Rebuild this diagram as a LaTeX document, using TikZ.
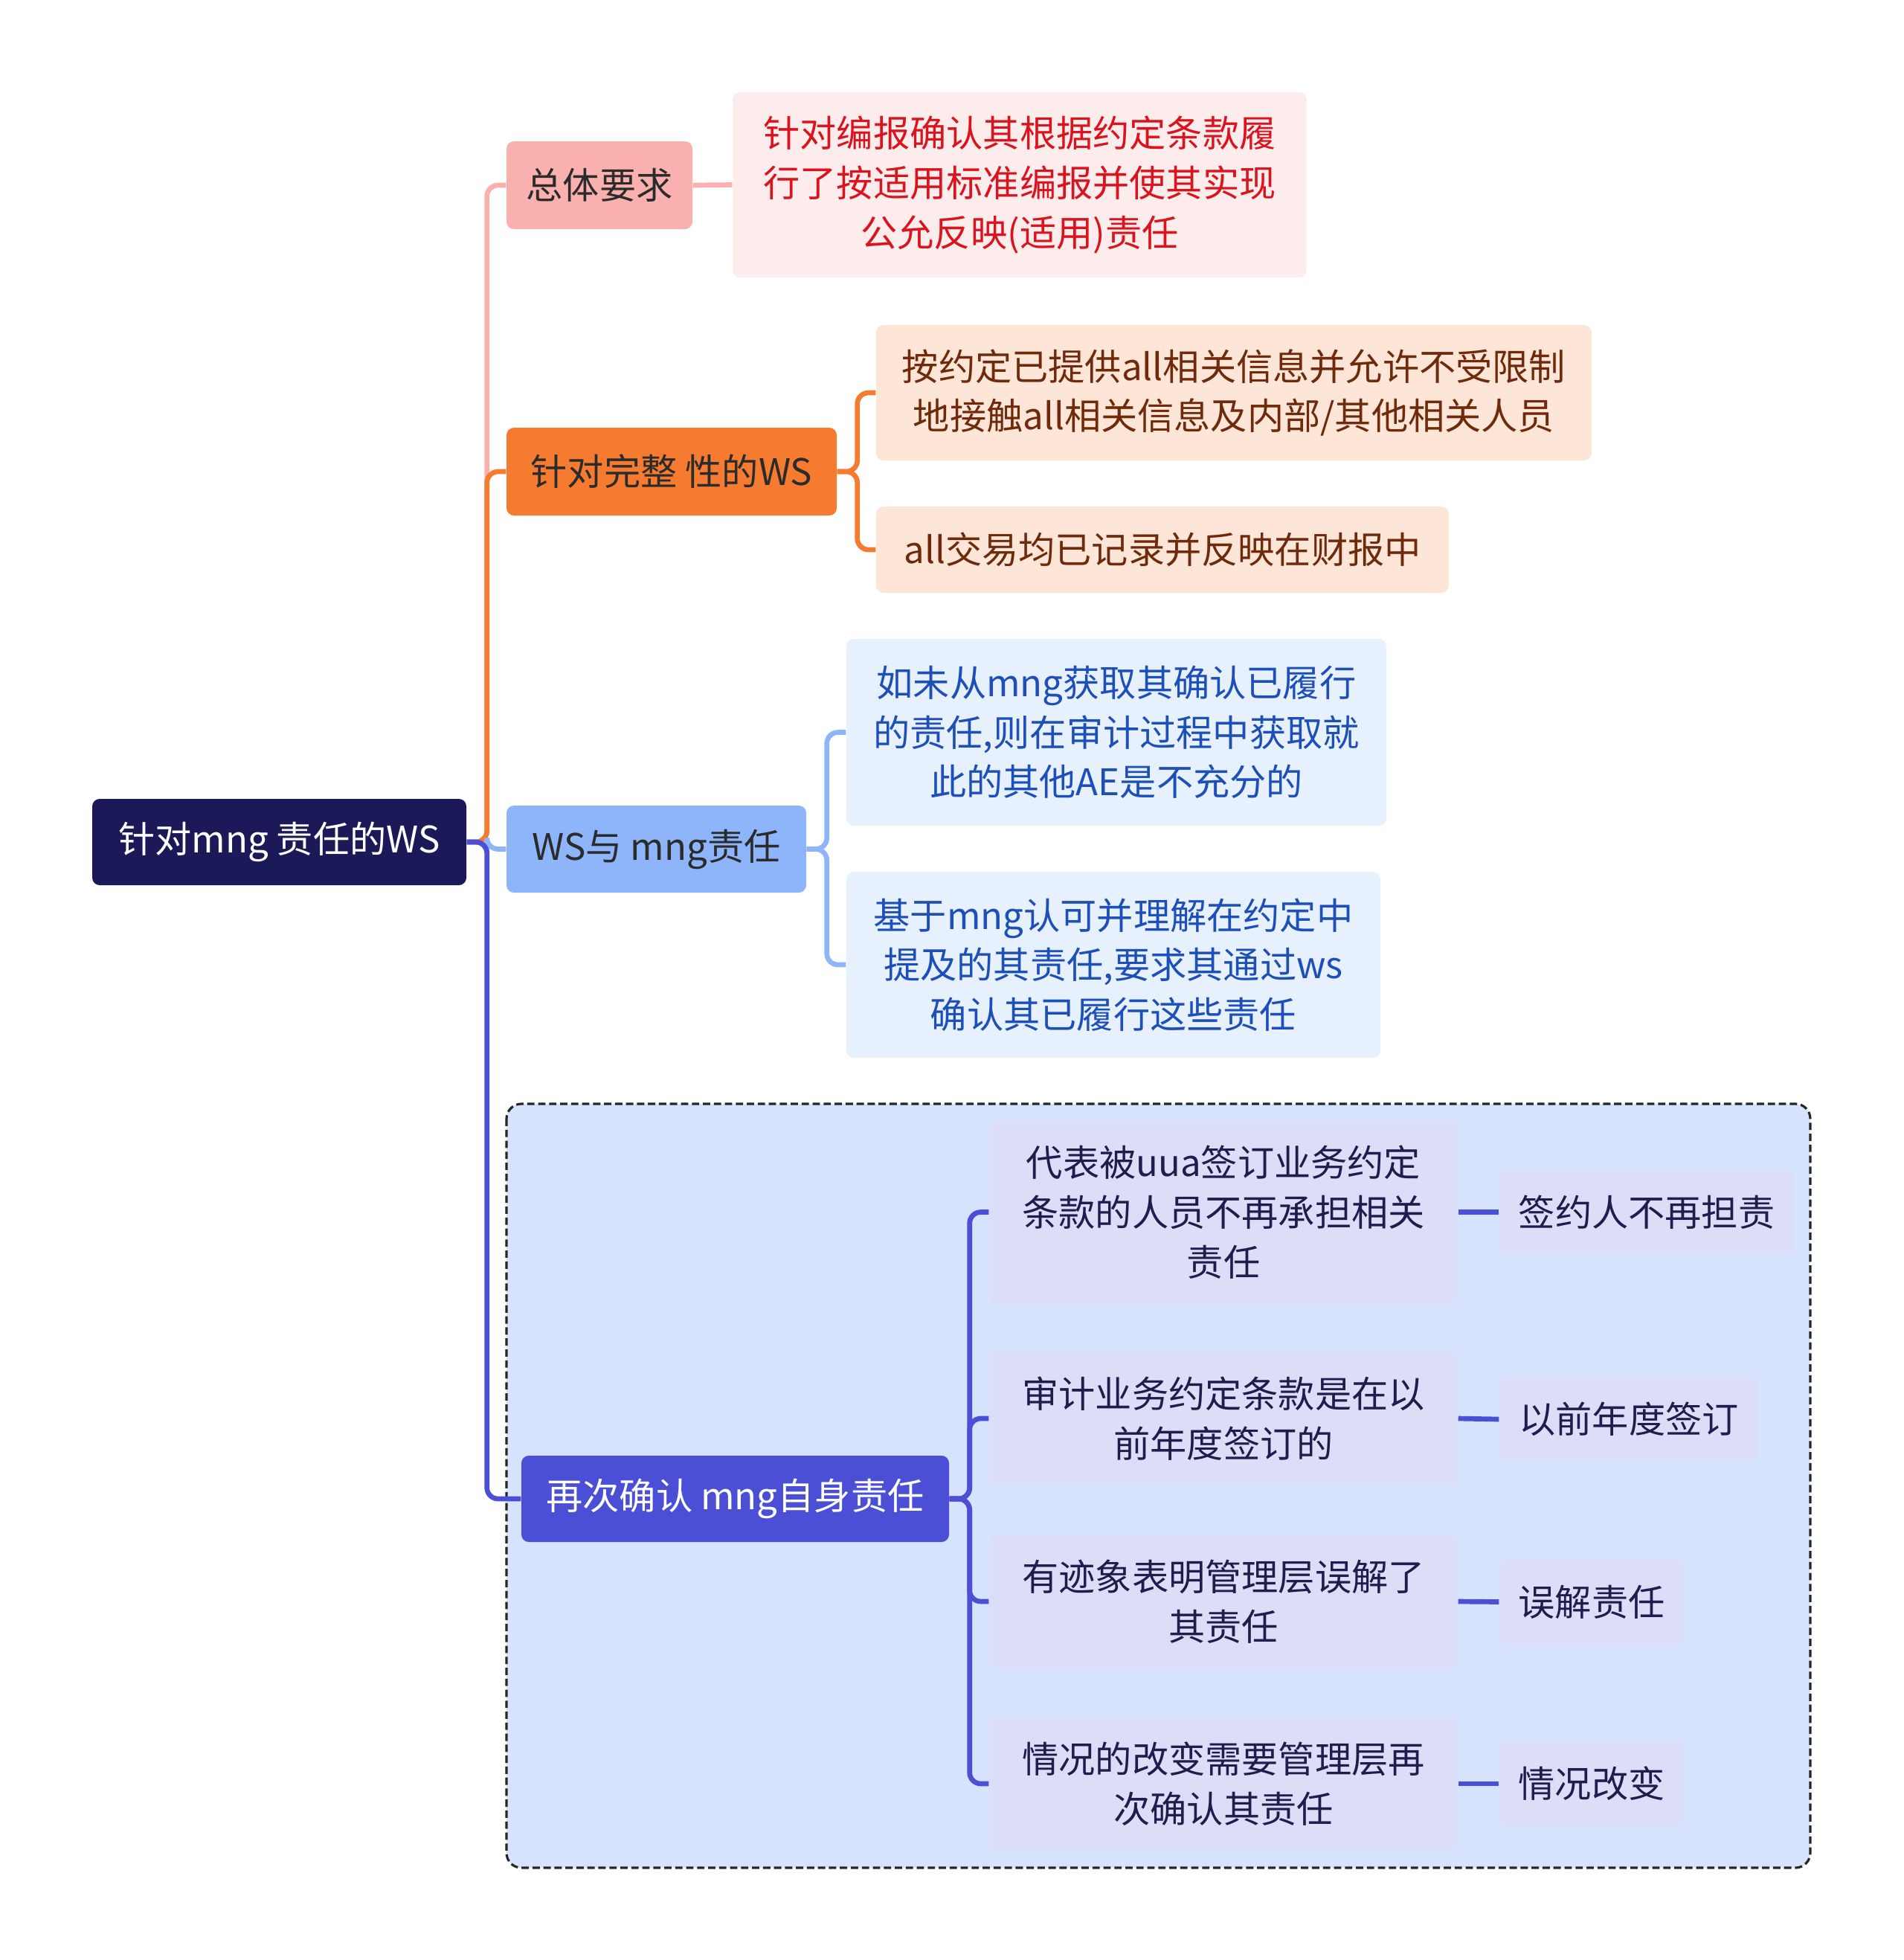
\documentclass[tikz,border=0pt]{standalone}
\usepackage{fontspec}
\setmainfont{Noto Sans CJK SC}
\usepackage{xcolor}
\usetikzlibrary{positioning, calc}

\definecolor{rootfill}{HTML}{1B1958}
\definecolor{pinkfill}{HTML}{FAB0AE}
\definecolor{pinklight}{HTML}{FDECEC}
\definecolor{pinktext}{HTML}{D9141E}
\definecolor{orangefill}{HTML}{F57B31}
\definecolor{orangelight}{HTML}{FDE5D7}
\definecolor{browntext}{HTML}{6E2A0A}
\definecolor{bluefill}{HTML}{8EB5F9}
\definecolor{bluelight}{HTML}{E7F0FD}
\definecolor{bluetext}{HTML}{1D4FB8}
\definecolor{purplefill}{HTML}{4A4FD5}
\definecolor{grouplight}{HTML}{D6E3FC}
\definecolor{midfill}{HTML}{DCDDF7}
\definecolor{navytext}{HTML}{1E1D4D}
\definecolor{darktext}{HTML}{2B2B2B}

\begin{document}
\begin{tikzpicture}[
    topic/.style={rectangle, rounded corners=1mm, align=center, inner sep=0pt, font=\fontsize{14}{19}\selectfont},
    rootbox/.style={topic, fill=rootfill, text=white},
    genbox/.style={topic, fill=pinkfill, text=darktext},
    gennote/.style={topic, fill=pinklight, text=pinktext},
    compbox/.style={topic, fill=orangefill, text=darktext},
    compnote/.style={topic, fill=orangelight, text=browntext},
    wsbox/.style={topic, fill=bluefill, text=darktext},
    wsnote/.style={topic, fill=bluelight, text=bluetext},
    rebox/.style={topic, fill=purplefill, text=white},
    renote/.style={topic, fill=midfill, text=navytext},
    link/.style={line width=1.9pt, rounded corners=1.5mm},
  ]
  \useasboundingbox (0,0) rectangle (25.6,-26.35);

  % Dashed group round the last branch
  \draw[fill=grouplight, draw=black!85, line width=0.9pt, dash pattern=on 2.8pt off 1.4pt, rounded corners=2mm]
    (6.81,-14.84) rectangle (24.34,-25.11);

  % Root
  \node[rootbox, minimum width=5.03cm, minimum height=1.16cm] (root) at (3.755,-11.32) {针对mng 责任的WS};

  % Branches
  \node[genbox, minimum width=2.50cm, minimum height=1.18cm] (gen) at (8.06,-2.49) {总体要求};
  \node[compbox, minimum width=4.44cm, minimum height=1.18cm] (comp) at (9.03,-6.34) {针对完整 性的WS};
  \node[wsbox, minimum width=4.03cm, minimum height=1.17cm] (ws) at (8.825,-11.415) {WS与 mng责任};
  \node[rebox, minimum width=5.75cm, minimum height=1.16cm] (re) at (9.885,-20.15) {再次确认 mng自身责任};

  % Notes
  \node[gennote, minimum width=7.72cm, minimum height=2.49cm] (gen1) at (13.71,-2.485) {针对编报确认其根据约定条款履\\行了按适用标准编报并使其实现\\公允反映(适用)责任};
  \node[compnote, minimum width=9.62cm, minimum height=1.82cm] (comp1) at (16.59,-5.28) {按约定已提供all相关信息并允许不受限制\\地接触all相关信息及内部/其他相关人员};
  \node[compnote, minimum width=7.70cm, minimum height=1.16cm] (comp2) at (15.63,-7.39) {all交易均已记录并反映在财报中};
  \node[wsnote, minimum width=7.26cm, minimum height=2.51cm] (ws1) at (15.01,-9.845) {如未从mng获取其确认已履行\\的责任,则在审计过程中获取就\\此的其他AE是不充分的};
  \node[wsnote, minimum width=7.18cm, minimum height=2.50cm] (ws2) at (14.97,-12.97) {基于mng认可并理解在约定中\\提及的其责任,要求其通过ws\\确认其已履行这些责任};

  \node[renote, minimum width=6.30cm, minimum height=2.47cm] (re1) at (16.45,-16.295) {代表被uua签订业务约定\\条款的人员不再承担相关\\责任};
  \node[renote, minimum width=6.30cm, minimum height=1.80cm] (re2) at (16.45,-19.07) {审计业务约定条款是在以\\前年度签订的};
  \node[renote, minimum width=6.30cm, minimum height=1.80cm] (re3) at (16.45,-21.53) {有迹象表明管理层误解了\\其责任};
  \node[renote, minimum width=6.30cm, minimum height=1.80cm] (re4) at (16.45,-23.98) {情况的改变需要管理层再\\次确认其责任};

  \node[renote, minimum width=3.96cm, minimum height=1.13cm] (sign) at (22.14,-16.295) {签约人不再担责};
  \node[renote, minimum width=3.48cm, minimum height=1.14cm] (prior) at (21.90,-19.08) {以前年度签订};
  \node[renote, minimum width=2.48cm, minimum height=1.15cm] (misread) at (21.40,-21.535) {误解责任};
  \node[renote, minimum width=2.48cm, minimum height=1.16cm] (change) at (21.40,-23.98) {情况改变};

  % Root to branches
  \draw[link, pinkfill] (root.east) -- ++(0.27,0) |- (gen.west);
  \draw[link, orangefill] (root.east) -- ++(0.27,0) |- (comp.west);
  \draw[link, bluefill] (root.east) -- ++(0.27,0) |- (ws.west);
  \draw[link, purplefill] (root.east) -- ++(0.27,0) |- (re.west);

  % Branches to notes
  \draw[link, pinkfill] (gen.east) -- (gen1.west);
  \draw[link, orangefill] (comp.east) -- ++(0.27,0) |- (comp1.west);
  \draw[link, orangefill] (comp.east) -- ++(0.27,0) |- (comp2.west);
  \draw[link, bluefill] (ws.east) -- ++(0.27,0) |- (ws1.west);
  \draw[link, bluefill] (ws.east) -- ++(0.27,0) |- (ws2.west);
  \foreach \k in {re1, re2, re3, re4}
    \draw[link, purplefill] (re.east) -- ++(0.27,0) |- (\k.west);

  % Notes to short labels
  \draw[link, purplefill] (re1.east) -- (sign.west);
  \draw[link, purplefill] (re2.east) -- (prior.west);
  \draw[link, purplefill] (re3.east) -- (misread.west);
  \draw[link, purplefill] (re4.east) -- (change.west);

\end{tikzpicture}
\end{document}
